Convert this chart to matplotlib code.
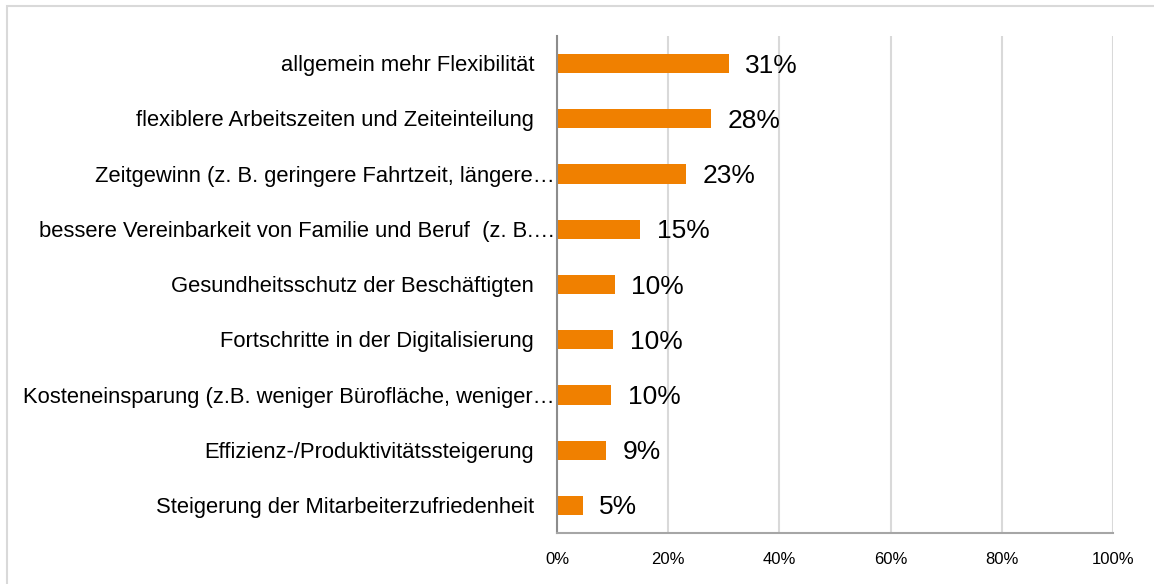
import matplotlib.pyplot as plt
from matplotlib.patches import Rectangle

# data (top to bottom)
categories = [
    "allgemein mehr Flexibilität",
    "flexiblere Arbeitszeiten und Zeiteinteilung",
    "Zeitgewinn (z. B. geringere Fahrtzeit, längere…",
    "bessere Vereinbarkeit von Familie und Beruf  (z. B.…",
    "Gesundheitsschutz der Beschäftigten",
    "Fortschritte in der Digitalisierung",
    "Kosteneinsparung (z.B. weniger Bürofläche, weniger…",
    "Effizienz-/Produktivitätssteigerung",
    "Steigerung der Mitarbeiterzufriedenheit",
]
values = [30.9, 27.7, 23.2, 15.0, 10.4, 10.1, 9.7, 8.9, 4.6]
truncated = [False, False, True, True, False, False, True, False, False]
xticks = [0, 20, 40, 60, 80, 100]

plt.rcParams["font.family"] = ["Liberation Sans", "DejaVu Sans"]

fig = plt.figure(figsize=(11.54, 5.84), dpi=100)
# light frame around the chart (right/bottom edges cut off)
fig.patches.append(Rectangle((7 / 1154, -0.1), 1.2, (584 - 6) / 584 + 0.1,
                             transform=fig.transFigure, fill=False,
                             edgecolor="#d9d9d9", linewidth=1.5))

ax = fig.add_axes([557 / 1154, 51 / 584, (1113 - 557) / 1154, (533 - 36) / 584])
y = list(range(len(categories)))
ax.barh(y, values, height=0.35, color="#f08000")
ax.set_xlim(0, 100)
ax.set_ylim(len(categories) - 0.5, -0.5)

ax.set_xticks(xticks)
ax.set_xticklabels([f"{t}%" for t in xticks], fontsize=12)
ax.tick_params(axis="x", length=0, pad=14)
ax.set_yticks([])
ax.grid(axis="x", color="#d9d9d9", linewidth=1.5)
ax.set_axisbelow(True)

for s in ["top", "right"]:
    ax.spines[s].set_visible(False)
ax.spines["left"].set_color("#8c8c8c")
ax.spines["bottom"].set_color("#a6a6a6")
ax.spines["left"].set_linewidth(1.5)
ax.spines["bottom"].set_linewidth(1.5)

for i, (cat, v, tr) in enumerate(zip(categories, values, truncated)):
    off = -1.5 if tr else -16.5
    ax.annotate(cat, xy=(0, i), xycoords=("axes fraction", "data"),
                xytext=(off, -1.5), textcoords="offset points",
                ha="right", va="center", fontsize=15.8)
    ax.annotate(f"{round(v)}%", xy=(v, i), xytext=(12, -1.5),
                textcoords="offset points", ha="left", va="center",
                fontsize=19)

fig.savefig("out.png", dpi=100)
